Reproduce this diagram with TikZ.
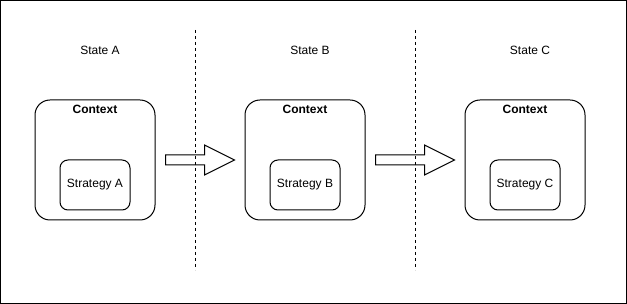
\documentclass[tikz,border=0pt]{standalone}
\usepackage{fontspec}
\setmainfont{Liberation Sans}
\usetikzlibrary{positioning,calc}
\tikzset{
  ctxbox/.style={draw,rounded corners=15pt,minimum width=120pt,minimum height=120pt,inner sep=0pt},
  stratbox/.style={draw,rounded corners=8pt,minimum width=70pt,minimum height=50pt,inner sep=0pt},
  ctxlabel/.style={font=\fontsize{12}{14}\selectfont\bfseries,inner sep=0pt},
  statelabel/.style={inner sep=0pt},
  boundary/.style={dash pattern=on 3pt off 3pt},
  blockarrow/.style={draw,fill=white,line join=miter}
}
\begin{document}
\begin{tikzpicture}[x=1pt,y=-1pt,line width=1pt,font=\fontsize{12}{14}\selectfont]
\useasboundingbox (0,0) rectangle (627,304);
\draw (0.5,0.5) rectangle (626.5,303.5);
% context boxes, one per state
\node[ctxbox] (ctxA) at (95,160) {};
\node[ctxbox] (ctxB) at (305,160) {};
\node[ctxbox] (ctxC) at (525,160) {};
\foreach \s in {A,B,C}{
  \node[ctxlabel] (lbl\s) at ($(ctx\s.north)+(0,10)$) {Context};
  \node[stratbox] (strat\s) at ($(ctx\s)+(0,25)$) {Strategy \s};
}
\node[statelabel] (stA) at (100,50) {State A};
\node[statelabel] (stB) at (310,50) {State B};
\node[statelabel] (stC) at (530,50) {State C};
% transitions
\foreach \a/\b in {A/B,B/C}{
  \coordinate (tail\a) at ($(ctx\a.east)+(10,0)$);
  \coordinate (tip\a) at ($(ctx\b.west)+(-10,0)$);
  \draw[blockarrow] ($(tail\a)+(0,-5)$) -- ($(tip\a)+(-30,-5)$) -- ($(tip\a)+(-30,-15)$)
    -- (tip\a) -- ($(tip\a)+(-30,15)$) -- ($(tip\a)+(-30,5)$) -- ($(tail\a)+(0,5)$) -- cycle;
}
\coordinate (sepAtop) at (195,30);
\coordinate (sepBtop) at (415,30);
\draw[boundary] (sepAtop) -- ++(0,240);
\draw[boundary] (sepBtop) -- ++(0,240);
\end{tikzpicture}
\end{document}
